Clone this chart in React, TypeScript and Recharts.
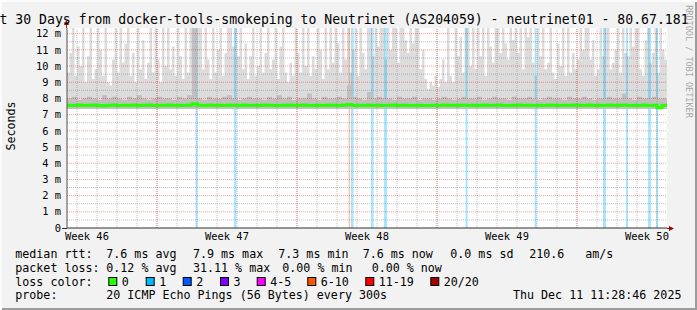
import React from 'react';
import {
  ComposedChart,
  Area,
  Line,
  XAxis,
  YAxis,
  CartesianGrid,
  ReferenceLine,
  ReferenceArea,
} from 'recharts';

// 30 days; smoke is kept per 3 hours, median and core per 6 hours
const DAYS = 30;
const SMOKE_SLOT = 0.125;
const Y_TOP = 12.35;

// smoke: lowest ping (ms) and highest ping of each slot (ms)
const smokeMin = 7.35;
const smokeMax = [
  9.6, 10.8, 12.4, 9.4, 11.2, 10.0, 12.4, 9.0,
  10.6, 12.4, 9.2, 9.8, 12.4, 11.0, 9.4, 12.4,
  9.0, 8.8, 10.4, 12.4, 9.6, 12.4, 10.2, 11.4,
  12.4, 9.4, 10.8, 9.0, 12.4, 9.8, 11.6, 9.2,
  10.2, 12.4, 9.6, 12.4, 10.4, 9.0, 12.4, 10.0,
  12.4, 9.8, 11.2, 9.4, 12.4, 10.6, 9.2, 12.4,
  9.6, 12.4, 10.0, 11.8, 12.4, 12.4, 9.8, 12.4,
  10.4, 9.2, 12.4, 9.6, 11.0, 12.4, 9.4, 10.8,
  12.4, 12.4, 11.2, 12.4, 10.6, 12.4, 9.8, 11.4,
  9.2, 10.6, 12.4, 9.4, 10.0, 12.4, 9.6, 10.8,
  12.4, 9.8, 10.4, 12.4, 9.2, 11.2, 12.4, 9.6,
  9.0, 10.2, 9.4, 12.4, 10.8, 9.6, 12.4, 10.0,
  12.4, 9.4, 10.6, 9.8, 12.4, 11.0, 9.2, 12.4,
  9.8, 12.4, 10.2, 12.4, 11.4, 9.6, 12.4, 10.4,
  12.4, 9.6, 11.0, 12.4, 9.4, 12.4, 10.8, 9.8,
  12.4, 12.4, 10.6, 12.4, 11.2, 12.4, 12.4, 10.4,
  12.4, 11.0, 12.4, 12.4, 10.2, 12.4, 12.4, 11.6,
  10.8, 12.4, 11.4, 12.4, 12.4, 9.8, 11.0, 9.2,
  8.6, 9.0, 8.8, 9.4, 8.7, 9.2, 10.4, 9.0,
  12.4, 9.4, 9.0, 12.4, 10.6, 11.8, 9.6, 12.4,
  12.4, 10.0, 12.4, 9.8, 12.4, 10.6, 12.4, 9.4,
  12.4, 11.2, 10.2, 12.4, 12.4, 10.8, 12.4, 11.4,
  10.4, 12.4, 11.6, 12.4, 10.8, 12.4, 9.8, 12.4,
  11.8, 12.4, 10.2, 9.4, 12.4, 10.6, 12.4, 9.8,
  10.2, 12.4, 9.6, 9.2, 11.4, 10.0, 12.4, 9.4,
  12.4, 9.6, 10.8, 9.8, 10.4, 12.4, 11.0, 12.4,
  12.4, 10.4, 11.6, 9.4, 9.8, 12.4, 10.6, 12.4,
  12.4, 9.8, 10.2, 11.0, 12.4, 9.6, 12.4, 10.8,
  10.6, 12.4, 11.2, 12.4, 12.4, 9.8, 9.4, 11.6,
  12.4, 10.2, 10.8, 12.4, 9.6, 12.4, 11.0, 10.4,
];
// darker core of the smoke around the median (6 h slots)
const coreMax = [
  8.0, 8.1, 7.9, 8.0, 8.1, 8.0, 7.9, 8.2, 8.0, 8.1,
  8.0, 7.9, 8.1, 8.0, 8.2, 8.0, 7.9, 8.0, 8.1, 8.0,
  8.0, 7.9, 8.1, 8.0, 8.2, 12.4, 8.0, 7.9, 8.1, 8.0,
  8.0, 8.1, 8.2, 8.0, 7.9, 8.0, 8.1, 8.0, 8.0, 7.9,
  8.1, 8.0, 8.2, 8.0, 8.1, 7.9, 8.0, 8.0, 8.3, 8.0,
  7.9, 8.1, 8.0, 8.0, 8.1, 8.0, 8.8, 8.1, 8.0, 7.9,
  8.4, 8.0, 8.1, 8.0, 8.0, 7.9, 8.1, 8.0, 8.0, 8.1,
  7.9, 8.0, 8.0, 7.9, 8.0, 8.1, 8.0, 7.9, 8.0, 8.1,
  8.0, 8.0, 8.1, 7.9, 8.0, 8.1, 8.0, 8.0, 7.9, 8.1,
  8.0, 8.0, 8.1, 8.0, 7.9, 8.0, 8.1, 8.0, 8.0, 7.9,
  8.1, 8.0, 8.0, 8.1, 8.0, 7.9, 8.0, 8.0, 8.1, 8.0,
  8.0, 8.3, 8.0, 7.9, 8.1, 8.0, 8.0, 8.1, 8.0, 8.0,
];
const medianRtt = [
  7.58, 7.57, 7.6, 7.56, 7.58, 7.59, 7.57, 7.55, 7.58, 7.6,
  7.57, 7.58, 7.56, 7.59, 7.57, 7.58, 7.6, 7.57, 7.56, 7.58,
  7.59, 7.57, 7.58, 7.56, 7.6, 7.68, 7.58, 7.57, 7.59, 7.56,
  7.58, 7.57, 7.59, 7.58, 7.56, 7.6, 7.57, 7.58, 7.56, 7.59,
  7.58, 7.57, 7.56, 7.58, 7.6, 7.57, 7.58, 7.59, 7.57, 7.56,
  7.58, 7.57, 7.59, 7.58, 7.57, 7.6, 7.62, 7.57, 7.58, 7.56,
  7.59, 7.57, 7.58, 7.56, 7.58, 7.59, 7.57, 7.58, 7.56, 7.57,
  7.58, 7.57, 7.56, 7.58, 7.57, 7.59, 7.58, 7.56, 7.58, 7.6,
  7.57, 7.58, 7.56, 7.59, 7.57, 7.58, 7.6, 7.57, 7.56, 7.58,
  7.59, 7.57, 7.58, 7.56, 7.58, 7.57, 7.59, 7.58, 7.56, 7.58,
  7.57, 7.59, 7.58, 7.56, 7.6, 7.57, 7.58, 7.56, 7.59, 7.57,
  7.58, 7.6, 7.57, 7.58, 7.56, 7.59, 7.57, 7.58, 7.42, 7.58,
];

// loss events (day offsets) and their loss class
const lossFrom = [6.43, 8.35, 14.08, 14.2, 15.2, 15.85, 19.93, 23.38, 26.8, 27.95, 29.05, 29.45];
const lossTo = [6.53, 8.47, 14.16, 14.33, 15.33, 16.0, 20.03, 23.48, 26.95, 28.05, 29.2, 29.55];
const lossClass = [1, 1, 5, 1, 1, 1, 1, 1, 1, 1, 1, 1];

const lossLabels = ['0', '1', '2', '3', '4-5', '6-10', '11-19', '20/20'];
const lossColors = ['#26ff00', '#00b8ff', '#0059ff', '#7e00ff', '#ff00ff', '#ff5500', '#ff0000', '#a10000'];

const weekTicks = [1, 8, 15, 22, 29];
const weekLabels = ['Week 46', 'Week 47', 'Week 48', 'Week 49', 'Week 50'];
const msTicks = [0, 1, 2, 3, 4, 5, 6, 7, 8, 9, 10, 11, 12];

const rows = smokeMax.map((hi, i) => {
  const j = Math.floor(i / 2);
  return {
    t: i * SMOKE_SLOT,
    smoke: [smokeMin, hi],
    core: [smokeMin, coreMax[j]],
    median: medianRtt[j],
  };
});
rows.push({ ...rows[rows.length - 1], t: DAYS });

const dayLines = Array.from({ length: DAYS }, (_, i) => i + 0.5);
const weekLines = [4.5, 11.5, 18.5, 25.5];
const halfLines = msTicks.map((v) => v + 0.5);

const MONO = '"DejaVu Sans Mono", monospace';
const LEG = 11.67;

const legendRows = [
  { y: 258.3, items: [[15.3, 'median rtt:'], [106.3, '7.6 ms avg'], [193, '7.9 ms max'], [278.3, '7.3 ms min'], [362.7, '7.6 ms now'], [450.3, '0.0 ms sd'], [529.3, '210.6'], [585.3, 'am/s']] },
  { y: 271.9, items: [[15.3, 'packet loss:'], [106.3, '0.12 % avg'], [193, '31.11 % max'], [282.3, '0.00 % min'], [371.7, '0.00 % now']] },
  { y: 285.5, items: [[15.3, 'loss color:']] },
  { y: 299.1, items: [[15.3, 'probe:'], [106.3, '20 ICMP Echo Pings (56 Bytes) every 300s'], [513, 'Thu Dec 11 11:28:46 2025']] },
];
const lossBoxX = [108.3, 145.7, 182.7, 220, 256.7, 307.3, 365.3, 430.3];

export default function App() {
  return (
    <div
      style={{
        position: 'absolute',
        left: 0,
        top: 0,
        width: 697,
        height: 310,
        background: '#f2f2f2',
        boxShadow: 'inset 2px 2px 0 #fcfcfc, inset -2px -2px 0 #9c9c9c',
        overflow: 'hidden',
      }}
    >
      <ComposedChart
        width={697}
        height={310}
        data={rows}
        margin={{ top: 28, right: 30, bottom: 62, left: 7 }}
        style={{ position: 'absolute', left: 0, top: 0 }}
      >
        <CartesianGrid fill="#ffffff" horizontal={false} vertical={false} />
        <XAxis
          dataKey="t"
          type="number"
          domain={[0, DAYS]}
          allowDataOverflow
          ticks={weekTicks}
          interval={0}
          tickFormatter={(v: number) => weekLabels[weekTicks.indexOf(v)]}
          tick={{ fill: '#000', fontSize: 10.4, fontFamily: MONO }}
          tickLine={false}
          tickSize={0}
          tickMargin={5}
          axisLine={{ stroke: '#303030' }}
          height={20}
        />
        <YAxis
          type="number"
          domain={[0, Y_TOP]}
          allowDataOverflow
          ticks={msTicks}
          interval={0}
          tickFormatter={(v: number) => (v === 0 ? '0' : `${v} m`)}
          tick={{ fill: '#000', fontSize: 10.4, fontFamily: MONO }}
          tickLine={false}
          tickSize={0}
          tickMargin={6}
          axisLine={{ stroke: '#505050' }}
          width={60}
        />
        <Area
          type="stepAfter"
          dataKey="smoke"
          fill="#dcdcdc"
          fillOpacity={1}
          stroke="none"
          isAnimationActive={false}
          dot={false}
          activeDot={false}
        />
        {lossFrom.map((x1, i) => (
          <ReferenceArea
            key={'loss' + i}
            x1={x1}
            x2={lossTo[i]}
            y1={0}
            y2={Y_TOP}
            fill={lossColors[lossClass[i]]}
            fillOpacity={0.35}
            stroke="none"
            ifOverflow="hidden"
            zIndex={150}
          />
        ))}
        <Area
          type="stepAfter"
          dataKey="core"
          fill="#c0c0c0"
          fillOpacity={1}
          stroke="none"
          isAnimationActive={false}
          dot={false}
          activeDot={false}
          zIndex={200}
        />
        {halfLines.map((v) => (
          <ReferenceLine key={'h' + v} y={v} stroke="#808080" strokeOpacity={0.5} strokeDasharray="1 1" ifOverflow="hidden" zIndex={350} />
        ))}
        {dayLines.map((v) => (
          <ReferenceLine key={'d' + v} x={v} stroke="#808080" strokeOpacity={0.5} strokeDasharray="1 1" ifOverflow="hidden" zIndex={350} />
        ))}
        {msTicks.slice(1).map((v) => (
          <ReferenceLine key={'m' + v} y={v} stroke="#ff0000" strokeOpacity={0.4} strokeDasharray="1 1" ifOverflow="hidden" zIndex={360} />
        ))}
        {weekLines.map((v) => (
          <ReferenceLine key={'w' + v} x={v} stroke="#ff0000" strokeOpacity={0.4} strokeDasharray="1 1" ifOverflow="hidden" zIndex={360} />
        ))}
        <Line
          type="stepAfter"
          dataKey="median"
          stroke={lossColors[0]}
          strokeWidth={3}
          dot={false}
          activeDot={false}
          isAnimationActive={false}
        />
      </ComposedChart>

      <svg
        width={697}
        height={310}
        style={{ position: 'absolute', left: 0, top: 0, pointerEvents: 'none' }}
        fontFamily={MONO}
      >
        {/* axis extensions and arrows */}
        <line x1={66.5} y1={24} x2={66.5} y2={28} stroke="#505050" />
        <polygon points="64,25 69,25 66.5,20" fill="#a00000" />
        <line x1={62} y1={228.5} x2={67} y2={228.5} stroke="#303030" />
        <line x1={667} y1={228.5} x2={669} y2={228.5} stroke="#303030" />
        <polygon points="669,226 669,231 674,228.5" fill="#a00000" />

        <text x={-0.5} y={24} fontSize={13.17} fill="#000">
          t 30 Days from docker-tools-smokeping to Neutrinet (AS204059) - neutrinet01 - 80.67.181
        </text>
        <text x={15} y={126} fontSize={LEG} fill="#000" textAnchor="middle" transform="rotate(-90 15 126)">
          Seconds
        </text>
        <text x={685.5} y={61.5} fontSize={8.5} fill="#a8a8a8" textAnchor="middle" transform="rotate(90 685.5 61.5)">
          RRDTOOL / TOBI OETIKER
        </text>

        {legendRows.map((row, r) =>
          row.items.map(([x, s], i) => (
            <text key={r + '-' + i} x={x as number} y={row.y} fontSize={LEG} fill="#000" xmlSpace="preserve">
              {s as string}
            </text>
          ))
        )}
        {lossLabels.map((label, i) => (
          <g key={'lc' + label}>
            <rect x={lossBoxX[i] + 0.5} y={277.5} width={8} height={8} fill={lossColors[i]} stroke="#000" />
            <text x={lossBoxX[i] + 13.5} y={285.5} fontSize={LEG} fill="#000">
              {label}
            </text>
          </g>
        ))}
      </svg>
    </div>
  );
}
